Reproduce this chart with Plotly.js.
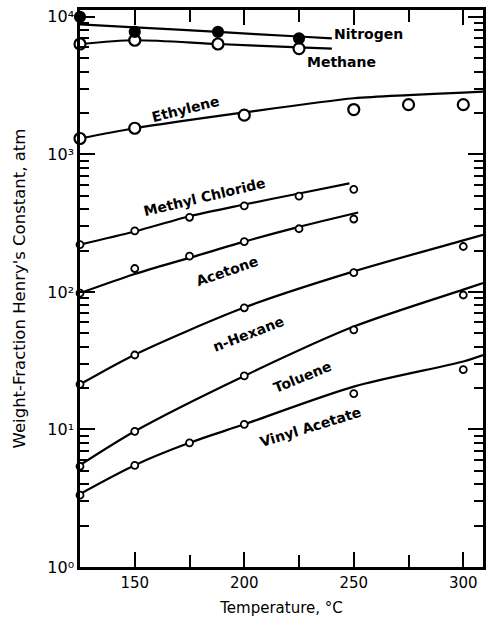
<!DOCTYPE html>
<html><head><meta charset="utf-8">
<script src="https://cdn.plot.ly/plotly-3.0.1.min.js"></script>
<style>html,body{margin:0;padding:0;background:#fff}</style>
</head><body><div id="chart" style="width:486px;height:620px"></div>
<script>
// ---- Data (temperature °C, Henry's constant atm) ----
const nitrogenT = [125, 150, 188, 225];
const nitrogenK = [10000, 7780, 7780, 6980];
const nitrogenCurveT = [125, 150, 188, 225, 240];
const nitrogenCurveK = [8830, 8400, 7770, 7200, 6980];

const methaneT = [125, 150, 188, 225];
const methaneK = [6350, 6760, 6350, 5880];
const methaneCurveT = [125, 150, 188, 225, 240];
const methaneCurveK = [6350, 6760, 6350, 6010, 5880];

const ethyleneT = [125, 150, 200, 250, 275, 300];
const ethyleneK = [1305, 1550, 1930, 2120, 2300, 2300];
const ethyleneCurveT = [125, 150, 200, 250, 275, 300, 309];
const ethyleneCurveK = [1305, 1550, 2020, 2560, 2700, 2810, 2860];

const methylChlorideT = [125, 150, 175, 200, 225, 250];
const methylChlorideK = [221, 278, 349, 423, 498, 557];
const methylChlorideCurveT = [125, 150, 175, 200, 225, 248];
const methylChlorideCurveK = [221, 275, 355, 432, 520, 615];

const acetoneT = [125, 150, 175, 200, 225, 250];
const acetoneK = [98, 148, 182, 232, 288, 339];
const acetoneCurveT = [125, 150, 175, 200, 225, 252];
const acetoneCurveK = [98, 135, 177, 232, 297, 378];

const hexaneT = [125, 150, 200, 250, 300];
const hexaneK = [21.3, 34.8, 76.7, 138, 214];
const hexaneCurveT = [125, 150, 200, 250, 300, 309];
const hexaneCurveK = [21.3, 35, 77, 141, 237, 260];

const tolueneT = [125, 150, 200, 250, 300];
const tolueneK = [5.4, 9.7, 24.5, 53, 95];
const tolueneCurveT = [125, 150, 200, 250, 300, 309];
const tolueneCurveK = [5.5, 9.7, 24.5, 56, 104, 116];

const vinylAcetateT = [125, 150, 175, 200, 250, 300];
const vinylAcetateK = [3.33, 5.48, 8.0, 10.9, 18.2, 27.2];
const vinylAcetateCurveT = [125, 150, 175, 200, 250, 300, 309];
const vinylAcetateCurveK = [3.4, 5.5, 8.0, 10.9, 20.5, 31.2, 34.8];

const yTickVals = [1, 10, 100, 1000, 10000];
const yTickText = ['10\u2070', '10\u00B9', '10\u00B2', '10\u00B3', '10\u2074'];

const labelTexts = ['Nitrogen', 'Methane', 'Ethylene', 'Methyl Chloride', 'Acetone', 'n-Hexane', 'Toluene', 'Vinyl Acetate'];

// ---- Traces ----
const FONT = 'DejaVu Sans, Liberation Sans, Arial, sans-serif';
function curve(x, y) {
  return {x: x, y: y, type: 'scatter', mode: 'lines', hoverinfo: 'skip',
          line: {color: '#000', width: 2.2, shape: 'spline', smoothing: 0.8}, showlegend: false};
}
function pts(x, y, size, filled) {
  return {x: x, y: y, type: 'scatter', mode: 'markers', cliponaxis: false, showlegend: false,
          marker: {symbol: 'circle', size: size, color: filled ? '#000' : '#fff',
                   line: {color: '#000', width: size > 8 ? 2.2 : 1.8}}};
}
const data = [
  curve(nitrogenCurveT, nitrogenCurveK),
  curve(methaneCurveT, methaneCurveK),
  curve(ethyleneCurveT, ethyleneCurveK),
  curve(methylChlorideCurveT, methylChlorideCurveK),
  curve(acetoneCurveT, acetoneCurveK),
  curve(hexaneCurveT, hexaneCurveK),
  curve(tolueneCurveT, tolueneCurveK),
  curve(vinylAcetateCurveT, vinylAcetateCurveK),
  pts(methaneT, methaneK, 11, false),
  pts(nitrogenT, nitrogenK, 10, true),
  pts(ethyleneT, ethyleneK, 11, false),
  pts(methylChlorideT, methylChlorideK, 7, false),
  pts(acetoneT, acetoneK, 7, false),
  pts(hexaneT, hexaneK, 7, false),
  pts(tolueneT, tolueneK, 7, false),
  pts(vinylAcetateT, vinylAcetateK, 7, false)
];

// label placement (paper coords) and rotation
const labelPos = [
  [0.715, 0.957, 0], [0.648, 0.907, 0], [0.261, 0.822, -14], [0.308, 0.665, -13.5],
  [0.365, 0.531, -19], [0.417, 0.418, -21], [0.551, 0.341, -22], [0.571, 0.251, -17]
];
const annotations = labelTexts.map((t, i) => ({
  text: t, xref: 'paper', yref: 'paper', x: labelPos[i][0], y: labelPos[i][1],
  xanchor: 'center', yanchor: 'middle', textangle: labelPos[i][2], showarrow: false,
  font: {family: FONT, size: 14, color: '#000', weight: 'bold'}
}));

const layout = {
  width: 486, height: 620,
  margin: {l: 80, r: 3, t: 10, b: 53},
  paper_bgcolor: '#fff', plot_bgcolor: '#fff',
  font: {family: FONT, color: '#000'},
  showlegend: false,
  xaxis: {
    range: [125, 309], tickmode: 'linear', tick0: 150, dtick: 50,
    ticks: 'inside', ticklen: 15, tickwidth: 2, tickcolor: '#000',
    showline: true, linewidth: 2.5, linecolor: '#000', mirror: 'ticks',
    showgrid: false, zeroline: false,
    tickfont: {family: FONT, size: 15, color: '#000'},
    minor: {tickmode: 'linear', tick0: 150, dtick: 25, ticks: 'inside', ticklen: 12, tickwidth: 2, tickcolor: '#000', showgrid: false},
    title: {text: 'Temperature, °C', font: {family: FONT, size: 15, color: '#000'}, standoff: 12}
  },
  yaxis: {
    type: 'log', range: [0, 4.05], tickmode: 'array', tickvals: yTickVals, ticktext: yTickText,
    ticks: 'inside', ticklen: 15, tickwidth: 2, tickcolor: '#000',
    showline: true, linewidth: 2.5, linecolor: '#000', mirror: 'ticks',
    showgrid: false, zeroline: false,
    tickfont: {family: FONT, size: 16, color: '#000'},
    minor: {dtick: 'D1', ticks: 'inside', ticklen: 9, tickwidth: 1.8, tickcolor: '#000', showgrid: false},
    title: {text: "Weight-Fraction Henry's Constant, atm", font: {family: FONT, size: 16.5, color: '#000'}, standoff: 18}
  },
  annotations: annotations
};

Plotly.newPlot('chart', data, layout, {displayModeBar: false});
</script>
</body></html>
